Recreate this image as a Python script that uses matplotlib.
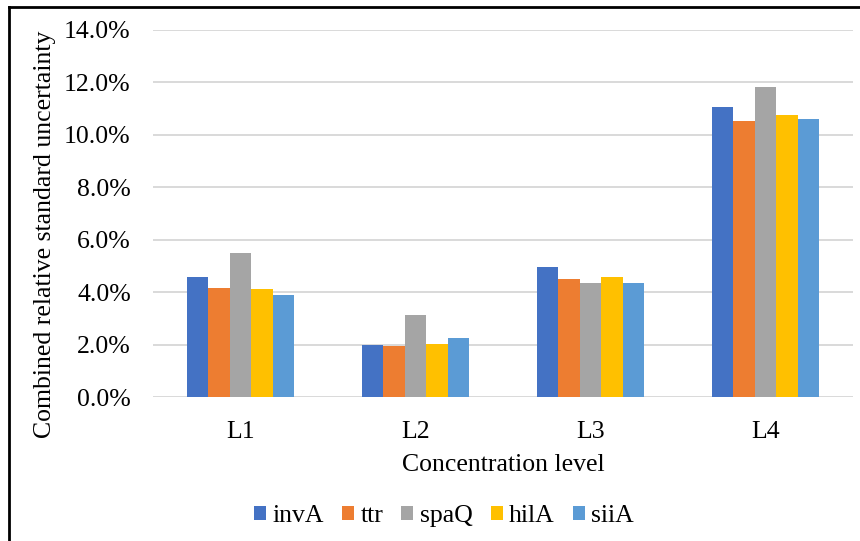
import matplotlib.pyplot as plt
import numpy as np
from matplotlib.lines import Line2D
from matplotlib.ticker import PercentFormatter

plt.rcParams['font.family'] = ['Liberation Serif', 'DejaVu Serif']

levels = ['L1', 'L2', 'L3', 'L4']
genes = ['invA', 'ttr', 'spaQ', 'hilA', 'siiA']
colors = ['#4472C4', '#ED7D31', '#A5A5A5', '#FFC000', '#5B9BD5']

# combined relative standard uncertainty, per gene, for L1..L4
invA = [0.0458, 0.0197, 0.0496, 0.1107]
ttr = [0.0417, 0.0193, 0.0449, 0.1053]
spaQ = [0.0550, 0.0314, 0.0435, 0.1184]
hilA = [0.0411, 0.0202, 0.0458, 0.1076]
siiA = [0.0388, 0.0226, 0.0435, 0.1061]
series = [invA, ttr, spaQ, hilA, siiA]

fs = 18.5

fig = plt.figure(figsize=(8.6, 5.41), dpi=100)
ax = fig.add_axes([153/860, 1-397/541, 700/860, 367/541])

x = np.arange(len(levels))
w = 0.123
for i, (name, vals) in enumerate(zip(genes, series)):
    ax.bar(x + (i - 2) * w, vals, width=w, color=colors[i], label=name, zorder=3)

ax.set_xlim(-0.5, 3.5)
ax.set_ylim(0, 0.14)
ax.set_yticks(np.arange(0, 0.141, 0.02))
ax.yaxis.set_major_formatter(PercentFormatter(1.0, decimals=1))
ax.set_xticks(x)
ax.set_xticklabels(levels)
ax.grid(axis='y', color='#d9d9d9', linewidth=1.4, zorder=0)
for s in ax.spines.values():
    s.set_visible(False)
ax.tick_params(length=0, labelsize=fs)
ax.tick_params(axis='y', pad=16)
ax.tick_params(axis='x', pad=17)
ax.set_xlabel('Concentration level', fontsize=fs, labelpad=8)

fig.text(45/860, 1-234/541, 'Combined relative standard uncertainty',
         rotation=90, ha='center', va='center', fontsize=fs)

ax.legend(loc='center', bbox_to_anchor=(444/860, 1-516/541),
          bbox_transform=fig.transFigure, ncol=5, frameon=False, fontsize=fs,
          handlelength=0.47, handleheight=0.47, handletextpad=0.25,
          columnspacing=0.7)

# chart frame (top and left edges visible)
fig.add_artist(Line2D([9/860, 1], [1-7/541, 1-7/541], color='black', linewidth=2,
                      transform=fig.transFigure))
fig.add_artist(Line2D([9/860, 9/860], [0, 1-7/541], color='black', linewidth=2,
                      transform=fig.transFigure))

fig.savefig('out.png', dpi=100)
